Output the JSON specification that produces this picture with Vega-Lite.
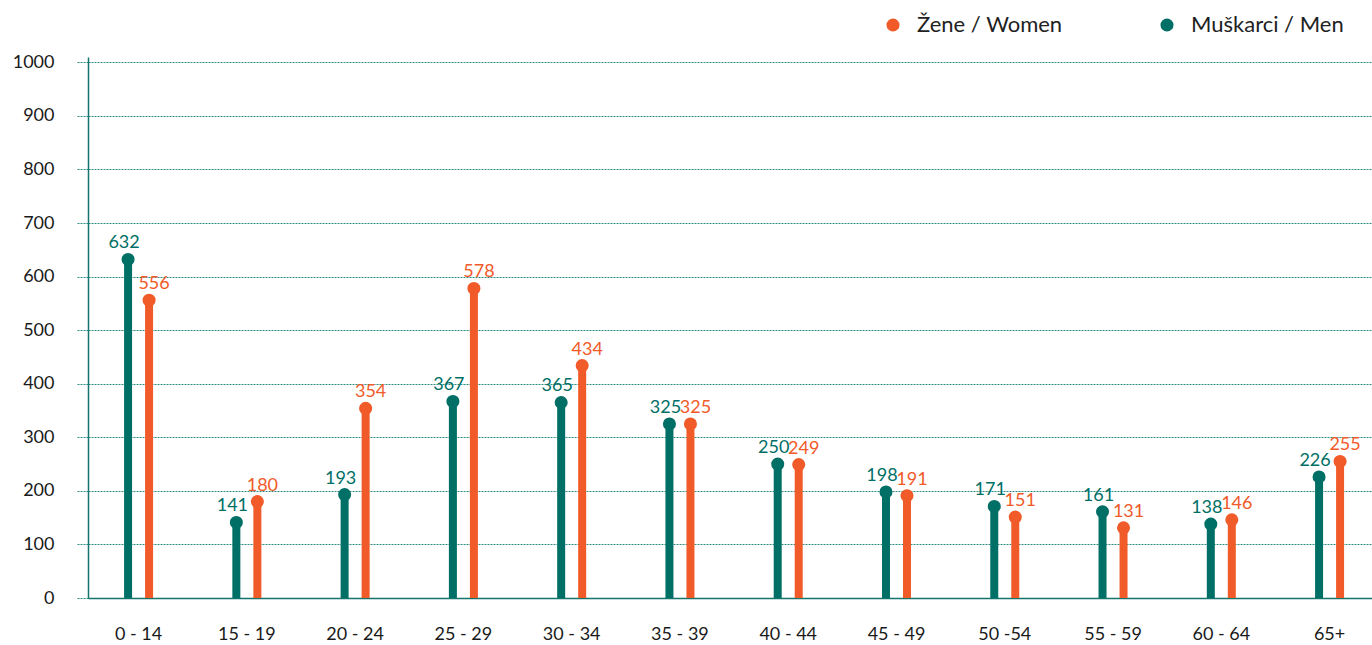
{
  "$schema": "https://vega.github.io/schema/vega-lite/v6.json",
  "width": 1284,
  "height": 541,
  "autosize": {"type": "none"},
  "padding": {"left": 88, "top": 57, "right": 0, "bottom": 47},
  "config": {
    "font": "Lato",
    "view": {"stroke": null}
  },
  "data": {
    "values": [
      {"age": "0 - 14", "spol": "Muškarci", "value": 632},
      {"age": "0 - 14", "spol": "Žene", "value": 556},
      {"age": "15 - 19", "spol": "Muškarci", "value": 141},
      {"age": "15 - 19", "spol": "Žene", "value": 180},
      {"age": "20 - 24", "spol": "Muškarci", "value": 193},
      {"age": "20 - 24", "spol": "Žene", "value": 354},
      {"age": "25 - 29", "spol": "Muškarci", "value": 367},
      {"age": "25 - 29", "spol": "Žene", "value": 578},
      {"age": "30 - 34", "spol": "Muškarci", "value": 365},
      {"age": "30 - 34", "spol": "Žene", "value": 434},
      {"age": "35 - 39", "spol": "Muškarci", "value": 325},
      {"age": "35 - 39", "spol": "Žene", "value": 325},
      {"age": "40 - 44", "spol": "Muškarci", "value": 250},
      {"age": "40 - 44", "spol": "Žene", "value": 249},
      {"age": "45 - 49", "spol": "Muškarci", "value": 198},
      {"age": "45 - 49", "spol": "Žene", "value": 191},
      {"age": "50 -54", "spol": "Muškarci", "value": 171},
      {"age": "50 -54", "spol": "Žene", "value": 151},
      {"age": "55 - 59", "spol": "Muškarci", "value": 161},
      {"age": "55 - 59", "spol": "Žene", "value": 131},
      {"age": "60 - 64", "spol": "Muškarci", "value": 138},
      {"age": "60 - 64", "spol": "Žene", "value": 146},
      {"age": "65+", "spol": "Muškarci", "value": 226},
      {"age": "65+", "spol": "Žene", "value": 255}
    ]
  },
  "encoding": {
    "x": {
      "field": "age", "type": "nominal", "sort": null,
      "scale": {"type": "band", "paddingInner": 0.612, "paddingOuter": 0.2355, "align": 0.58},
      "axis": {
        "title": null,
        "labelAngle": 0, "ticks": false, "tickSize": 0, "labelPadding": 27,
        "labelFont": "Lato", "labelFontSize": 18, "labelColor": "#1a1a1a",
        "domainColor": "#13756d", "domainWidth": 1.5, "grid": false
      }
    },
    "xOffset": {
      "field": "spol", "type": "nominal",
      "scale": {"domain": ["Muškarci", "Žene"], "paddingInner": 0, "paddingOuter": 0}
    },
    "y": {
      "field": "value", "type": "quantitative",
      "scale": {"domain": [0, 1010], "nice": false, "zero": true},
      "axis": {
        "title": null,
        "values": [0, 100, 200, 300, 400, 500, 600, 700, 800, 900, 1000],
        "format": "d",
        "labelFont": "Lato", "labelFontSize": 18, "labelColor": "#1a1a1a",
        "domainColor": "#13756d", "domainWidth": 1.5,
        "tickSize": 12, "tickColor": "#2b8c84", "tickDash": [2, 1], "tickWidth": 1,
        "labelPadding": 22,
        "grid": true, "gridColor": "#2b8c84", "gridDash": [2, 1], "gridWidth": 1
      }
    },
    "color": {
      "field": "spol", "type": "nominal",
      "scale": {"domain": ["Žene", "Muškarci"], "range": ["#f15a29", "#006f66"]},
      "legend": {
        "title": null,
        "orient": "none",
        "legendX": 794,
        "legendY": -43,
        "direction": "horizontal",
        "columns": 2,
        "columnPadding": 93,
        "padding": 0,
        "symbolType": "circle",
        "symbolSize": 170,
        "symbolStrokeWidth": 0,
        "labelFont": "Lato",
        "labelFontSize": 22,
        "labelColor": "#222222",
        "labelOffset": 13,
        "labelLimit": 300,
        "labelExpr": "datum.label == 'Žene' ? 'Žene / Women' : 'Muškarci / Men'"
      }
    }
  },
  "layer": [
    {
      "mark": {"type": "rule", "strokeWidth": 8},
      "encoding": {"y2": {"datum": 0}}
    },
    {
      "mark": {"type": "point", "filled": true, "size": 170, "opacity": 1}
    },
    {
      "transform": [{"filter": "datum.spol == 'Muškarci'"}],
      "mark": {"type": "text", "dy": -11, "dx": -4, "baseline": "alphabetic", "fontSize": 18, "font": "Lato"},
      "encoding": {"text": {"field": "value", "type": "quantitative"}}
    },
    {
      "transform": [{"filter": "datum.spol == 'Žene'"}],
      "mark": {"type": "text", "dy": -11, "dx": 5, "baseline": "alphabetic", "fontSize": 18, "font": "Lato"},
      "encoding": {"text": {"field": "value", "type": "quantitative"}}
    }
  ]
}
